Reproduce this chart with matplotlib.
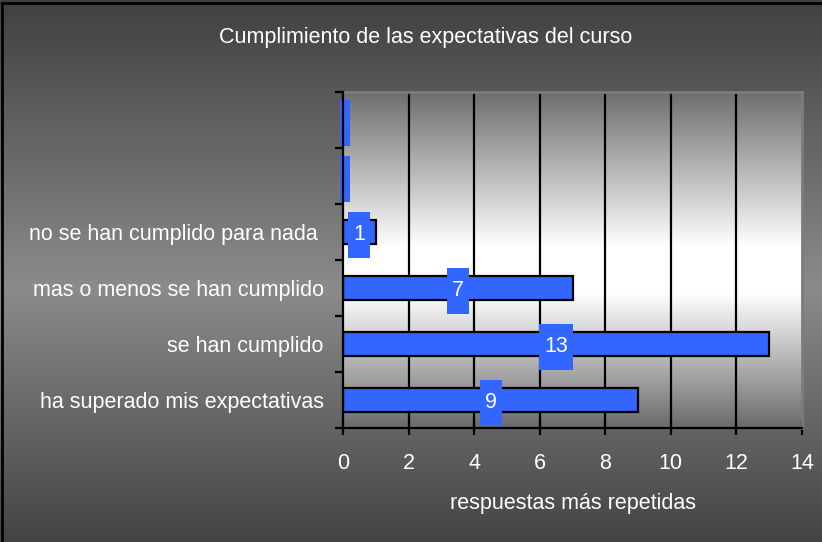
import numpy as np
import matplotlib
matplotlib.use("Agg")
import matplotlib.pyplot as plt
from matplotlib.patches import Rectangle
from matplotlib.lines import Line2D

plt.rcParams['font.family'] = ['Liberation Sans', 'DejaVu Sans']

title = "Cumplimiento de las expectativas del curso"
xlabel = "respuestas más repetidas"
categories = ["ha superado mis expectativas", "se han cumplido",
              "mas o menos se han cumplido", "no se han cumplido para nada ", "", ""]
values = [9, 13, 7, 1, 0, 0]
labels = ["9", "13", "7", "1", "", ""]
xticks = [0, 2, 4, 6, 8, 10, 12, 14]

W, H = 822, 542
fig = plt.figure(figsize=(W / 100, H / 100), dpi=100)

# figure background gradient
bg = fig.add_axes([0, 0, 1, 1], zorder=-10)
t = np.linspace(0, 1, 400)
peak = 0.53
g = np.where(t < peak, 0x40 + (0x8b - 0x40) * (t / peak),
             0x8b - (0x8b - 0x44) * ((t - peak) / (1 - peak))) / 255.0
img = np.dstack([g, g, g]).reshape(400, 1, 3)
bg.imshow(img, aspect='auto', extent=[0, 1, 0, 1], origin='upper')
bg.set_xlim(0, 1); bg.set_ylim(0, 1)
bg.axis('off')
bg.add_line(Line2D([0.003, 0.003], [0, 0.995], color='black', lw=2, transform=bg.transAxes))
bg.add_line(Line2D([0.003, 1], [0.995, 0.995], color='black', lw=2, transform=bg.transAxes))

L, R, T, B = 343 / W, 802 / W, 1 - 92 / H, 1 - 428 / H
ax = fig.add_axes([L, B, R - L, T - B])
# plot area gradient
t2 = np.linspace(0, 1, 400)
a, b2 = 0.46, 0.60
g2 = np.where(t2 < a, 0x6e + (0xff - 0x6e) * (t2 / a),
              np.where(t2 < b2, 0xff,
                       0xff - (0xff - 0x6a) * ((t2 - b2) / (1 - b2)))) / 255.0
g2 = np.clip(g2, 0, 1)
img2 = np.dstack([g2, g2, g2]).reshape(400, 1, 3)
ax.imshow(img2, aspect='auto', extent=[0, 14, -0.5, len(categories) - 0.5],
          origin='upper', zorder=0)

y = np.arange(len(categories))
ax.set_xlim(0, 14)
ax.set_ylim(-0.5, len(categories) - 0.5)

for xv in xticks[1:-1]:
    ax.axvline(xv, color='black', lw=1.6, zorder=1)

blue = '#3366ff'
for yi, v in zip(y, values):
    if v > 0:
        ax.barh(yi, v, height=0.42, color=blue, edgecolor='black', lw=1.6, zorder=3)

# spines
ax.spines['left'].set_color('black'); ax.spines['left'].set_linewidth(1.6)
ax.spines['bottom'].set_color('black'); ax.spines['bottom'].set_linewidth(1.6)
ax.spines['top'].set_color('#7c7c7c'); ax.spines['top'].set_linewidth(2)
ax.spines['right'].set_color('#7c7c7c'); ax.spines['right'].set_linewidth(2)
ax.spines['left'].set_zorder(6); ax.spines['bottom'].set_zorder(6)

ax.set_xticks(xticks)
ax.set_xticklabels([str(v) for v in xticks], color='white', fontsize=15.5)
ax.tick_params(axis='x', direction='inout', length=10, width=1.6, color='black', pad=13)
ax.set_yticks(y)
ax.set_yticklabels(categories, color='white', fontsize=15.5)
ax.tick_params(axis='y', which='major', length=0, pad=14)
ax.set_yticks(np.arange(-0.5, len(categories)), minor=True)
ax.tick_params(axis='y', which='minor', direction='out', length=6, width=1.6, color='black')

# data label boxes
fig.canvas.draw()
bb = ax.get_window_extent()
pxx = bb.width / 14.0
pxy = bb.height / len(categories)
for yi, v, lab in zip(y, values, labels):
    wpx = 10 + 12 * len(lab)
    hpx = 46
    cx = v / 2.0 + (0 if lab else 2 / pxx)
    cy = yi - 3 / pxy
    ax.add_patch(Rectangle((cx - wpx / 2 / pxx, cy - hpx / 2 / pxy), wpx / pxx, hpx / pxy,
                           facecolor=blue, edgecolor='none', zorder=4, clip_on=False))
    if lab:
        ax.text(cx, cy, lab, color='white', fontsize=15.5, ha='center', va='center', zorder=5)

fig.text(0.518, 1 - 38 / H, title, color='white', fontsize=15.5, ha='center', va='center')
fig.text((L + R) / 2, 1 - 503 / H, xlabel, color='white', fontsize=15.5, ha='center', va='center')

fig.savefig('out.png', dpi=100)
